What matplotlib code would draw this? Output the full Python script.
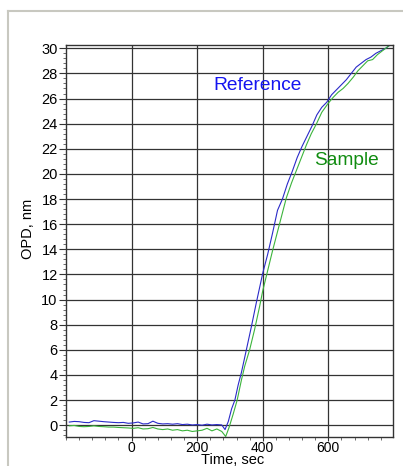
import matplotlib
matplotlib.use('Agg')
import matplotlib.pyplot as plt
from matplotlib.lines import Line2D
from matplotlib.ticker import MultipleLocator

plt.rcParams['font.family'] = ['Liberation Sans', 'DejaVu Sans']

# data
ref_time = [-190, -175, -160, -145, -130, -115, -100, -85, -70, -55, -40, -25, -10, 5, 20, 35,
            50, 65, 80, 95, 110, 125, 140, 155, 170, 185, 200, 215, 230, 245, 260, 275, 285,
            295, 305, 315, 325, 335, 350, 365, 380, 390, 400, 415, 430, 445, 460, 475, 490,
            505, 520, 535, 550, 565, 580, 595, 610, 625, 640, 655, 670, 685, 700, 715, 730,
            745, 760, 775, 790]
ref_opd = [0.25, 0.3, 0.28, 0.22, 0.2, 0.36, 0.32, 0.28, 0.25, 0.22, 0.2, 0.22, 0.15, 0.18, 0.25, 0.1,
           0.12, 0.32, 0.15, 0.1, 0.12, 0.08, 0.12, 0.05, 0.08, 0.02, 0.05, 0.0, 0.08, 0.02, 0.05, 0.02, -0.35,
           0.3, 1.3, 2.0, 3.2, 4.2, 6.0, 7.8, 9.7, 10.9, 12.1, 13.6, 15.3, 17.1, 18.0, 19.2, 20.2,
           21.3, 22.2, 23.0, 23.8, 24.7, 25.3, 25.7, 26.3, 26.7, 27.1, 27.5, 28.0, 28.5, 28.8, 29.1, 29.3,
           29.6, 29.8, 30.0, 30.3]

smp_time = [-190, -175, -160, -145, -130, -115, -100, -85, -70, -55, -40, -25, -10, 5, 20, 35,
            50, 65, 80, 95, 110, 125, 140, 155, 170, 185, 200, 215, 230, 245, 260, 275, 287,
            297, 310, 322, 335, 345, 360, 375, 390, 400, 415, 430, 445, 460, 472, 488, 503,
            518, 533, 548, 564, 580, 599, 615, 630, 645, 660, 676, 690, 705, 720, 735, 750,
            765, 780, 790]
smp_opd = [-0.05, -0.02, -0.1, -0.12, -0.1, -0.05, -0.1, -0.12, -0.15, -0.15, -0.18, -0.2, -0.22, -0.25, -0.2, -0.3,
           -0.28, -0.18, -0.3, -0.35, -0.3, -0.4, -0.35, -0.45, -0.4, -0.5, -0.45, -0.4, -0.25, -0.45, -0.3, -0.5, -0.9,
           -0.2, 0.9, 2.0, 3.6, 4.7, 6.0, 7.6, 9.4, 10.7, 12.3, 13.9, 15.4, 16.9, 18.1, 19.3, 20.3,
           21.3, 22.3, 23.2, 24.0, 24.9, 25.6, 26.1, 26.5, 26.8, 27.2, 27.7, 28.2, 28.6, 29.0, 29.1, 29.5,
           29.8, 30.1, 30.3]

x_major = [0, 200, 400, 600]

fig = plt.figure(figsize=(4.03, 4.66), dpi=100)
ax = fig.add_axes([0.1638, 0.0633, 0.8112, 0.8412])

ax.plot(ref_time, ref_opd, color='#2a2ac8', lw=0.8)
ax.plot(smp_time, smp_opd, color='#3cb43c', lw=0.8)

ax.set_xlim(-200, 797)
ax.set_ylim(-0.9, 30.3)
ax.set_xticks(x_major)
ax.xaxis.set_minor_locator(MultipleLocator(40))
ax.yaxis.set_major_locator(MultipleLocator(2))
ax.yaxis.set_minor_locator(MultipleLocator(0.4))
ax.tick_params(axis='y', which='major', labelsize=10.5, length=5, width=0.8, color='#333333', pad=1)
ax.tick_params(axis='x', which='major', labelsize=10, length=3, width=0.8, color='#333333', pad=0)
ax.tick_params(axis='both', which='minor', length=2.5, width=0.6, color='#555555')
ax.grid(True, which='major', color='#333333', lw=0.9)
for s in ax.spines.values():
    s.set_color('#333333')
    s.set_linewidth(1.0)

ax.text(385, 27.0, 'Reference', color='#1414f0', fontsize=13.8, ha='center', va='center')
ax.text(655, 21.1, 'Sample', color='#108c10', fontsize=13.8, ha='center', va='center')

fig.text(0.069, 0.508, 'OPD, nm', rotation=90, fontsize=10.5, ha='center', va='center')
fig.text(0.578, 0.012, 'Time, sec', fontsize=10.5, ha='center', va='center')

# outer panel frame
fig.add_artist(Line2D([8 / 403, 8 / 403], [0, 1 - 11 / 466], color='#c8c8c0', lw=1.5))
fig.add_artist(Line2D([8 / 403, 1], [1 - 11 / 466, 1 - 11 / 466], color='#c8c8c0', lw=1.5))

fig.savefig('out.png', dpi=100)
